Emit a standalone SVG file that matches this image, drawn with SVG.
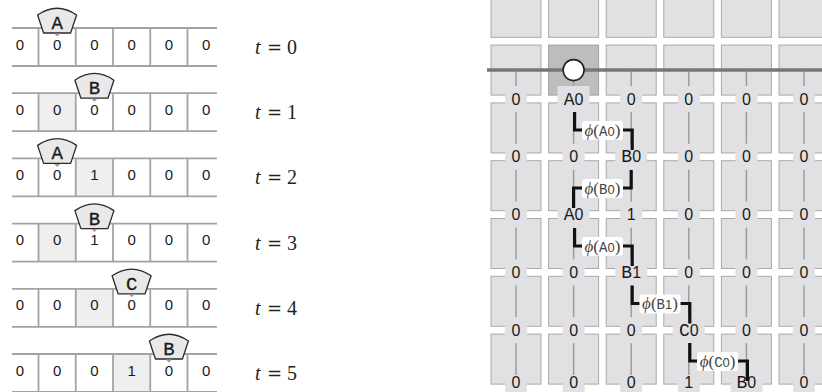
<svg xmlns="http://www.w3.org/2000/svg" width="822" height="392" viewBox="0 0 822 392">
<style>
.tl{stroke:#a3a3a3;stroke-width:1.8;fill:none}
.sh{fill:#efefef}
.d{font-family:"Liberation Sans",sans-serif;font-size:15px;fill:#1a1a1a;text-anchor:middle}
.head{fill:#e9e9e9;stroke:#2a2a2a;stroke-width:1.3;stroke-linejoin:round}
.ptr{fill:#9a9a9a}
.hl{font-family:"Liberation Mono",monospace;font-size:19px;fill:#1a1a1a;text-anchor:middle;stroke:#1a1a1a;stroke-width:0.3}
.tt{font-family:"Liberation Serif",serif;font-size:20px;fill:#222}
.eq{font-family:"DejaVu Serif",serif;font-size:18px;fill:#222}
.sq{fill:#e1e1e3;stroke:#a9a9a9;stroke-width:1}
.sqa{fill:#bdbdbd;stroke:#a0a0a0;stroke-width:1}
.wire{stroke:#9c9c9c;stroke-width:1.5}
.lb{fill:#e1e1e3}
.g{font-family:"Liberation Sans",sans-serif;font-size:16px;fill:#1a1a1a;text-anchor:middle}
.L{font-family:"Liberation Mono",monospace;font-size:18px}
.br{fill:none;stroke:#111;stroke-width:3.2;stroke-linejoin:miter}
.pb{fill:#fff}
.phi{font-family:"Liberation Serif",serif;font-size:17px;fill:#444;text-anchor:middle}
.m{font-family:"Liberation Mono",monospace;font-size:14px}
.z{font-family:"Liberation Sans",sans-serif;font-size:13px}
</style>
<defs>
<g id="tape">
<line class="tl" x1="12" y1="0" x2="217" y2="0"/>
<line class="tl" x1="12" y1="38" x2="217" y2="38"/>
<line class="tl" x1="38.5" y1="0" x2="38.5" y2="38"/>
<line class="tl" x1="75.75" y1="0" x2="75.75" y2="38"/>
<line class="tl" x1="113" y1="0" x2="113" y2="38"/>
<line class="tl" x1="150.25" y1="0" x2="150.25" y2="38"/>
<line class="tl" x1="187.5" y1="0" x2="187.5" y2="38"/>
</g>
<g id="hd">
<path class="head" d="M-19.5,-13 Q0,-26.5 19.5,-13 L13.5,5 L-13.5,5 Z"/>
<path class="ptr" d="M-3,5.5 L3,5.5 L0,8.5 Z"/>
</g>
</defs>

<!-- Left: tape snapshots -->
<g id="tape-t0" transform="translate(0,28)">
<use href="#tape"/>
<g class="d"><text x="19.9" y="21.5">0</text><text x="57.1" y="21.5">0</text><text x="94.4" y="21.5">0</text><text x="131.6" y="21.5">0</text><text x="168.9" y="21.5">0</text><text x="206.1" y="21.5">0</text></g>
<g id="head-t0" transform="translate(57.1,0)"><use href="#hd"/><text class="hl" x="0" y="1">A</text></g>
<text class="tt" x="255" y="26"><tspan font-style="italic">t</tspan><tspan class="eq" x="267">=</tspan><tspan x="287">0</tspan></text>
</g>

<g id="tape-t1" transform="translate(0,93.2)">
<rect class="sh" x="38.5" y="0" width="37.25" height="38"/>
<use href="#tape"/>
<g class="d"><text x="19.9" y="21.5">0</text><text x="57.1" y="21.5">0</text><text x="94.4" y="21.5">0</text><text x="131.6" y="21.5">0</text><text x="168.9" y="21.5">0</text><text x="206.1" y="21.5">0</text></g>
<g id="head-t1" transform="translate(94.4,0)"><use href="#hd"/><text class="hl" x="0" y="1">B</text></g>
<text class="tt" x="255" y="26"><tspan font-style="italic">t</tspan><tspan class="eq" x="267">=</tspan><tspan x="287">1</tspan></text>
</g>

<g id="tape-t2" transform="translate(0,158.4)">
<rect class="sh" x="75.75" y="0" width="37.25" height="38"/>
<use href="#tape"/>
<g class="d"><text x="19.9" y="21.5">0</text><text x="57.1" y="21.5">0</text><text x="94.4" y="21.5">1</text><text x="131.6" y="21.5">0</text><text x="168.9" y="21.5">0</text><text x="206.1" y="21.5">0</text></g>
<g id="head-t2" transform="translate(57.1,0)"><use href="#hd"/><text class="hl" x="0" y="1">A</text></g>
<text class="tt" x="255" y="26"><tspan font-style="italic">t</tspan><tspan class="eq" x="267">=</tspan><tspan x="287">2</tspan></text>
</g>

<g id="tape-t3" transform="translate(0,223.6)">
<rect class="sh" x="38.5" y="0" width="37.25" height="38"/>
<use href="#tape"/>
<g class="d"><text x="19.9" y="21.5">0</text><text x="57.1" y="21.5">0</text><text x="94.4" y="21.5">1</text><text x="131.6" y="21.5">0</text><text x="168.9" y="21.5">0</text><text x="206.1" y="21.5">0</text></g>
<g id="head-t3" transform="translate(94.4,0)"><use href="#hd"/><text class="hl" x="0" y="1">B</text></g>
<text class="tt" x="255" y="26"><tspan font-style="italic">t</tspan><tspan class="eq" x="267">=</tspan><tspan x="287">3</tspan></text>
</g>

<g id="tape-t4" transform="translate(0,288.8)">
<rect class="sh" x="75.75" y="0" width="37.25" height="38"/>
<use href="#tape"/>
<g class="d"><text x="19.9" y="21.5">0</text><text x="57.1" y="21.5">0</text><text x="94.4" y="21.5">0</text><text x="131.6" y="21.5">0</text><text x="168.9" y="21.5">0</text><text x="206.1" y="21.5">0</text></g>
<g id="head-t4" transform="translate(131.6,0)"><use href="#hd"/><text class="hl" x="0" y="1">C</text></g>
<text class="tt" x="255" y="26"><tspan font-style="italic">t</tspan><tspan class="eq" x="267">=</tspan><tspan x="287">4</tspan></text>
</g>

<g id="tape-t5" transform="translate(0,354)">
<rect class="sh" x="113" y="0" width="37.25" height="38"/>
<use href="#tape"/>
<g class="d"><text x="19.9" y="21.5">0</text><text x="57.1" y="21.5">0</text><text x="94.4" y="21.5">0</text><text x="131.6" y="21.5">1</text><text x="168.9" y="21.5">0</text><text x="206.1" y="21.5">0</text></g>
<g id="head-t5" transform="translate(168.9,0)"><use href="#hd"/><text class="hl" x="0" y="1">B</text></g>
<text class="tt" x="255" y="26"><tspan font-style="italic">t</tspan><tspan class="eq" x="267">=</tspan><tspan x="287">5</tspan></text>
</g>

<!-- Right: grid -->
<g id="grid">
<g id="squares">
<rect class="sq" x="491" y="-12.7" width="50" height="50"/><rect class="sq" x="548.6" y="-12.7" width="50" height="50"/><rect class="sq" x="606.2" y="-12.7" width="50" height="50"/><rect class="sq" x="663.8" y="-12.7" width="50" height="50"/><rect class="sq" x="721.4" y="-12.7" width="50" height="50"/><rect class="sq" x="779" y="-12.7" width="50" height="50"/>
<rect class="sq" x="491" y="45.1" width="50" height="50"/><rect class="sqa" x="548.6" y="45.1" width="50" height="50"/><rect class="sq" x="606.2" y="45.1" width="50" height="50"/><rect class="sq" x="663.8" y="45.1" width="50" height="50"/><rect class="sq" x="721.4" y="45.1" width="50" height="50"/><rect class="sq" x="779" y="45.1" width="50" height="50"/>
<rect class="sq" x="491" y="102.9" width="50" height="50"/><rect class="sq" x="548.6" y="102.9" width="50" height="50"/><rect class="sq" x="606.2" y="102.9" width="50" height="50"/><rect class="sq" x="663.8" y="102.9" width="50" height="50"/><rect class="sq" x="721.4" y="102.9" width="50" height="50"/><rect class="sq" x="779" y="102.9" width="50" height="50"/>
<rect class="sq" x="491" y="160.7" width="50" height="50"/><rect class="sq" x="548.6" y="160.7" width="50" height="50"/><rect class="sq" x="606.2" y="160.7" width="50" height="50"/><rect class="sq" x="663.8" y="160.7" width="50" height="50"/><rect class="sq" x="721.4" y="160.7" width="50" height="50"/><rect class="sq" x="779" y="160.7" width="50" height="50"/>
<rect class="sq" x="491" y="218.5" width="50" height="50"/><rect class="sq" x="548.6" y="218.5" width="50" height="50"/><rect class="sq" x="606.2" y="218.5" width="50" height="50"/><rect class="sq" x="663.8" y="218.5" width="50" height="50"/><rect class="sq" x="721.4" y="218.5" width="50" height="50"/><rect class="sq" x="779" y="218.5" width="50" height="50"/>
<rect class="sq" x="491" y="276.3" width="50" height="50"/><rect class="sq" x="548.6" y="276.3" width="50" height="50"/><rect class="sq" x="606.2" y="276.3" width="50" height="50"/><rect class="sq" x="663.8" y="276.3" width="50" height="50"/><rect class="sq" x="721.4" y="276.3" width="50" height="50"/><rect class="sq" x="779" y="276.3" width="50" height="50"/>
<rect class="sq" x="491" y="334.1" width="50" height="50"/><rect class="sq" x="548.6" y="334.1" width="50" height="50"/><rect class="sq" x="606.2" y="334.1" width="50" height="50"/><rect class="sq" x="663.8" y="334.1" width="50" height="50"/><rect class="sq" x="721.4" y="334.1" width="50" height="50"/><rect class="sq" x="779" y="334.1" width="50" height="50"/>
</g>
<g id="wires">
<line class="wire" x1="516" y1="70.1" x2="516" y2="392"/>
<line class="wire" x1="573.6" y1="70.1" x2="573.6" y2="392"/>
<line class="wire" x1="631.2" y1="70.1" x2="631.2" y2="392"/>
<line class="wire" x1="688.8" y1="70.1" x2="688.8" y2="392"/>
<line class="wire" x1="746.4" y1="70.1" x2="746.4" y2="392"/>
<line class="wire" x1="804" y1="70.1" x2="804" y2="392"/>
</g>
<line id="bus" x1="487" y1="70.1" x2="822" y2="70.1" stroke="#777" stroke-width="3.5"/>
<circle id="pointer" cx="573.6" cy="70.1" r="10.5" fill="#fff" stroke="#222" stroke-width="1.6"/>
</g>

<g id="labels">
<g id="r0">
<rect class="lb" x="505" y="86" width="22" height="26"/><text class="g" x="516" y="104.5">0</text>
<rect class="lb" x="557.6" y="86" width="32" height="26"/><text class="g" x="573.6" y="104.5"><tspan class="L">A</tspan>0</text>
<rect class="lb" x="620.2" y="86" width="22" height="26"/><text class="g" x="631.2" y="104.5">0</text>
<rect class="lb" x="677.8" y="86" width="22" height="26"/><text class="g" x="688.8" y="104.5">0</text>
<rect class="lb" x="735.4" y="86" width="22" height="26"/><text class="g" x="746.4" y="104.5">0</text>
<rect class="lb" x="793" y="86" width="22" height="26"/><text class="g" x="804" y="104.5">0</text>
</g>
<g id="r1">
<rect class="lb" x="505" y="143.8" width="22" height="26"/><text class="g" x="516" y="162.3">0</text>
<rect class="lb" x="562.6" y="143.8" width="22" height="26"/><text class="g" x="573.6" y="162.3">0</text>
<rect class="lb" x="615.2" y="143.8" width="32" height="26"/><text class="g" x="631.2" y="162.3"><tspan class="L">B</tspan>0</text>
<rect class="lb" x="677.8" y="143.8" width="22" height="26"/><text class="g" x="688.8" y="162.3">0</text>
<rect class="lb" x="735.4" y="143.8" width="22" height="26"/><text class="g" x="746.4" y="162.3">0</text>
<rect class="lb" x="793" y="143.8" width="22" height="26"/><text class="g" x="804" y="162.3">0</text>
</g>
<g id="r2">
<rect class="lb" x="505" y="201.6" width="22" height="26"/><text class="g" x="516" y="220.1">0</text>
<rect class="lb" x="557.6" y="201.6" width="32" height="26"/><text class="g" x="573.6" y="220.1"><tspan class="L">A</tspan>0</text>
<rect class="lb" x="620.2" y="201.6" width="22" height="26"/><text class="g" x="631.2" y="220.1">1</text>
<rect class="lb" x="677.8" y="201.6" width="22" height="26"/><text class="g" x="688.8" y="220.1">0</text>
<rect class="lb" x="735.4" y="201.6" width="22" height="26"/><text class="g" x="746.4" y="220.1">0</text>
<rect class="lb" x="793" y="201.6" width="22" height="26"/><text class="g" x="804" y="220.1">0</text>
</g>
<g id="r3">
<rect class="lb" x="505" y="259.4" width="22" height="26"/><text class="g" x="516" y="277.9">0</text>
<rect class="lb" x="562.6" y="259.4" width="22" height="26"/><text class="g" x="573.6" y="277.9">0</text>
<rect class="lb" x="615.2" y="259.4" width="32" height="26"/><text class="g" x="631.2" y="277.9"><tspan class="L">B</tspan>1</text>
<rect class="lb" x="677.8" y="259.4" width="22" height="26"/><text class="g" x="688.8" y="277.9">0</text>
<rect class="lb" x="735.4" y="259.4" width="22" height="26"/><text class="g" x="746.4" y="277.9">0</text>
<rect class="lb" x="793" y="259.4" width="22" height="26"/><text class="g" x="804" y="277.9">0</text>
</g>
<g id="r4">
<rect class="lb" x="505" y="317.2" width="22" height="26"/><text class="g" x="516" y="335.7">0</text>
<rect class="lb" x="562.6" y="317.2" width="22" height="26"/><text class="g" x="573.6" y="335.7">0</text>
<rect class="lb" x="620.2" y="317.2" width="22" height="26"/><text class="g" x="631.2" y="335.7">0</text>
<rect class="lb" x="672.8" y="317.2" width="32" height="26"/><text class="g" x="688.8" y="335.7"><tspan class="L">C</tspan>0</text>
<rect class="lb" x="735.4" y="317.2" width="22" height="26"/><text class="g" x="746.4" y="335.7">0</text>
<rect class="lb" x="793" y="317.2" width="22" height="26"/><text class="g" x="804" y="335.7">0</text>
</g>
<g id="r5">
<rect class="lb" x="505" y="375" width="22" height="26"/><text class="g" x="516" y="388">0</text>
<rect class="lb" x="562.6" y="375" width="22" height="26"/><text class="g" x="573.6" y="388">0</text>
<rect class="lb" x="620.2" y="375" width="22" height="26"/><text class="g" x="631.2" y="388">0</text>
<rect class="lb" x="677.8" y="375" width="22" height="26"/><text class="g" x="688.8" y="388">1</text>
<rect class="lb" x="730.4" y="375" width="32" height="26"/><text class="g" x="746.4" y="388"><tspan class="L">B</tspan>0</text>
<rect class="lb" x="793" y="375" width="22" height="26"/><text class="g" x="804" y="388">0</text>
</g>
</g>

<g id="connectors">
<path class="br" d="M574.6,112 V130 H632.2 V150"/>
<rect class="pb" x="582" y="121" width="41" height="19" rx="3"/>
<text class="phi" x="602.4" y="135.5"><tspan font-style="italic">ϕ</tspan>(<tspan class="m">A</tspan><tspan class="z">0</tspan>)</text>

<path class="br" d="M631.2,170 V188 H573.6 V208"/>
<rect class="pb" x="582" y="179" width="41" height="19" rx="3"/>
<text class="phi" x="602.4" y="193.5"><tspan font-style="italic">ϕ</tspan>(<tspan class="m">B</tspan><tspan class="z">0</tspan>)</text>

<path class="br" d="M574.6,228 V246 H632.2 V266"/>
<rect class="pb" x="582" y="237" width="41" height="19" rx="3"/>
<text class="phi" x="602.4" y="251.5"><tspan font-style="italic">ϕ</tspan>(<tspan class="m">A</tspan><tspan class="z">0</tspan>)</text>

<path class="br" d="M632.2,285.5 V303.5 H689.8 V323.5"/>
<rect class="pb" x="639.5" y="294.5" width="41" height="19" rx="3"/>
<text class="phi" x="660" y="309"><tspan font-style="italic">ϕ</tspan>(<tspan class="m">B</tspan><tspan class="z">1</tspan>)</text>

<path class="br" d="M689.8,343 V361 H747.4 V381"/>
<rect class="pb" x="697" y="352" width="41" height="19" rx="3"/>
<text class="phi" x="717.6" y="366.5"><tspan font-style="italic">ϕ</tspan>(<tspan class="m">C</tspan><tspan class="z">0</tspan>)</text>
</g>
</svg>
